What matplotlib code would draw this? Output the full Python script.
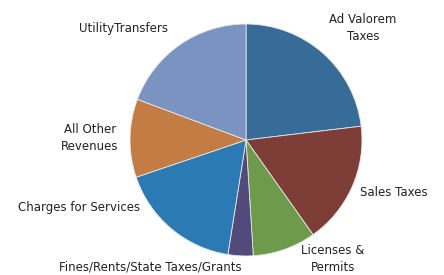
import matplotlib
matplotlib.use("Agg")
import matplotlib.pyplot as plt

categories = ["Ad Valorem\nTaxes", "Sales Taxes", "Licenses &\nPermits",
              "Fines/Rents/State Taxes/Grants", "Charges for Services",
              "All Other\nRevenues", "UtilityTransfers"]
values = [23.1, 17.1, 8.8, 3.5, 17.3, 10.9, 19.3]
colors = ["#386c98", "#7e3e38", "#6e9a4c", "#534a7c", "#2b7ab4", "#c27c44", "#7b93c0"]
label_pos = [(1.009, 0.966), (1.276, -0.457), (0.75, -1.026), (-0.828, -1.095),
             (-1.44, -0.578), (-1.345, 0.017), (-1.06, 0.957)]

fig = plt.figure(figsize=(4.44, 2.75), dpi=100)
ax = fig.add_axes([0, 0, 1, 1])
ax.pie(values, colors=colors, startangle=90, counterclock=False, radius=1.0,
       wedgeprops=dict(edgecolor="#e8e8e8", linewidth=0.6))
for lab, (x, y) in zip(categories, label_pos):
    ax.text(x, y, lab, ha="center", va="center", fontsize=8.5, color="#222222",
            linespacing=1.45, family="DejaVu Sans")
ax.set_aspect("auto")
ax.set_xlim(-2.121, 1.707)
ax.set_ylim(-1.164, 1.207)
ax.axis("off")
fig.savefig("out.png", dpi=100, facecolor="white")
